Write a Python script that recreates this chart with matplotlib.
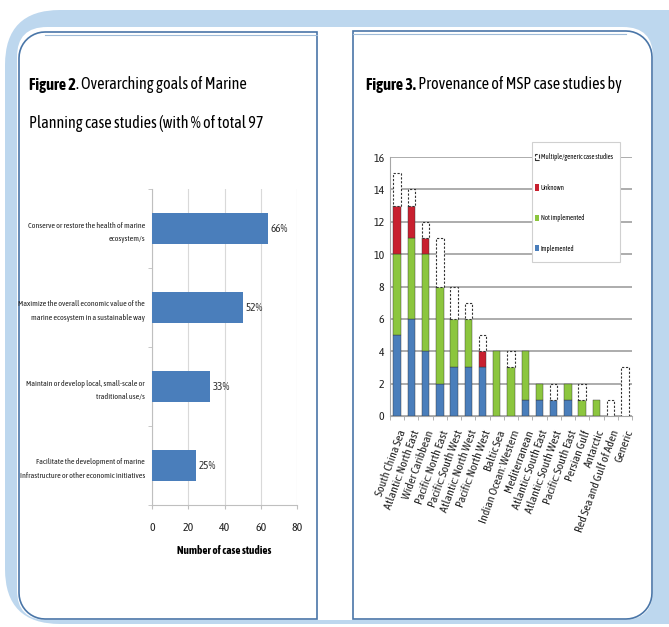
import matplotlib
matplotlib.use("Agg")
import matplotlib.pyplot as plt
from matplotlib.patches import FancyBboxPatch, Patch, Polygon, Rectangle
import numpy as np

W, H = 669, 627

# Figure 2: overarching goals (number of case studies, share of 97)
goals = [
    "Conserve or restore the health of marine\necosystem/s",
    "Maximize the overall economic value of the\nmarine ecosystem in a sustainable way",
    "Maintain or develop local, small-scale or\ntraditional use/s",
    "Facilitate the development of marine\nInfrastructure or other economic initiatives",
]
goal_counts = [64, 50, 32, 24]
goal_pct = ["66%", "52%", "33%", "25%"]

# Figure 3: provenance of MSP case studies by region
regions = [
    "South China Sea", "Atlantic: North East", "Wider Caribbean", "Pacific: North East",
    "Pacific: South West", "Atlantic: North West", "Pacific: North West", "Baltic Sea",
    "Indian Ocean: Western", "Mediterranean", "Atlantic: South East", "Atlantic: South West",
    "Pacific: South East", "Persian Gulf", "Antarctic", "Red Sea and Gulf of Aden", "Generic",
]
implemented     = [5, 6, 4, 2, 3, 3, 3, 0, 0, 1, 1, 1, 1, 0, 0, 0, 0]
not_implemented = [5, 5, 6, 6, 3, 3, 0, 4, 3, 3, 1, 0, 1, 1, 1, 0, 0]
unknown         = [3, 2, 1, 0, 0, 0, 1, 0, 0, 0, 0, 0, 0, 0, 0, 0, 0]
multiple        = [2, 1, 1, 3, 2, 1, 1, 0, 1, 0, 0, 1, 0, 1, 0, 1, 3]

FONT = ["Asap Condensed", "Liberation Sans", "DejaVu Sans"]
plt.rcParams["font.family"] = FONT

FRAME = "#bdd7ee"
EDGE = "#4a76a8"
BLUE = "#4a7ebb"
GREEN = "#8cc63e"
RED = "#c8202f"
GRID = "#a6a6a6"


def outline(x0, y0, x1, y1, r_tl=0, r_tr=0, r_br=0, r_bl=0):
    """Rectangle outline (y pointing down) with its own radius per corner."""
    pts = []
    for cx, cy, r, t0 in [(x0 + r_tl, y0 + r_tl, r_tl, np.pi),
                          (x1 - r_tr, y0 + r_tr, r_tr, 1.5 * np.pi),
                          (x1 - r_br, y1 - r_br, r_br, 0.0),
                          (x0 + r_bl, y1 - r_bl, r_bl, 0.5 * np.pi)]:
        t = np.linspace(t0, t0 + 0.5 * np.pi, 12)
        pts += list(zip(cx + r * np.cos(t), cy + r * np.sin(t)))
    return np.array(pts)


fig = plt.figure(figsize=(W / 100, H / 100), dpi=100)
bg = fig.add_axes([0, 0, 1, 1], zorder=-5)
bg.set_xlim(0, W)
bg.set_ylim(H, 0)
bg.axis("off")

# slide frame
bg.add_patch(FancyBboxPatch((5, 10), 720, 614, boxstyle="round,pad=0,rounding_size=55",
                            fc=FRAME, ec="none"))
bg.add_patch(FancyBboxPatch((17, 27), 636, 593, boxstyle="round,pad=0,rounding_size=30",
                            fc="white", ec="none"))
bg.add_patch(Polygon(outline(19, 32, 317, 619, r_tl=26, r_bl=26), closed=True,
                     fc="none", ec=EDGE, lw=1.2))
bg.add_patch(Polygon(outline(353, 31, 652, 619, r_tr=26, r_br=26), closed=True,
                     fc="none", ec=EDGE, lw=1.2))
bg.plot([45, 317], [35, 35], color="#9fbbd8", lw=0.8)
bg.plot([353, 626], [34, 34], color="#9fbbd8", lw=0.8)

# titles
TS = 11.6


def title(x, y, bold, rest):
    t = bg.text(x, y, bold, fontsize=TS, fontweight="bold", va="bottom", ha="left")
    bg.annotate(rest, xy=(1, 0), xycoords=t, va="bottom", ha="left", fontsize=TS)


title(29, 93, "Figure 2", ". Overarching goals of Marine")
bg.text(29, 132, "Planning case studies (with % of total 97", fontsize=TS, va="bottom", ha="left")
title(366, 93, "Figure 3.", " Provenance of MSP case studies by")

# ---- Figure 2 bars
ax1 = fig.add_axes([152 / W, 1 - 505 / H, 145 / W, 316 / H])
ypos = np.arange(len(goals))
ax1.barh(ypos, goal_counts, height=0.39, color=BLUE, zorder=3)
for y, v, p in zip(ypos, goal_counts, goal_pct):
    ax1.text(v + 1.5, y, p, va="center", ha="left", fontsize=8, color="#333333")
ax1.set_xlim(0, 80)
ax1.set_ylim(len(goals) - 0.5, -0.5)
ax1.set_xticks([0, 20, 40, 60, 80])
ax1.set_yticks(ypos)
ax1.set_yticklabels(goals, fontsize=5.8, linespacing=1.95)
ax1.set_yticks(np.arange(-0.5, len(goals)), minor=True)
ax1.tick_params(axis="y", which="major", length=0, pad=5, colors="#222222")
ax1.tick_params(axis="y", which="minor", length=3, color="#bfbfbf")
ax1.tick_params(axis="x", length=3, color="#bfbfbf", labelsize=8.5,
                labelcolor="#222222", pad=9)
ax1.grid(axis="x", color="#d9d9d9", lw=0.8, zorder=0)
for s in ("top", "right"):
    ax1.spines[s].set_visible(False)
for s in ("left", "bottom"):
    ax1.spines[s].set_color("#bfbfbf")
ax1.set_xlabel("Number of case studies", fontsize=8, fontweight="bold", labelpad=9)

# ---- Figure 3 stacked bars
ax2 = fig.add_axes([390 / W, 1 - 416 / H, 242 / W, 259 / H])
x = np.arange(len(regions))
imp = np.array(implemented)
nim = np.array(not_implemented)
unk = np.array(unknown)
mul = np.array(multiple)
bw = 0.52
series = [(imp, 0, BLUE), (nim, imp, GREEN), (unk, imp + nim, RED)]
for vals, bottom, col in series:
    bottom = np.zeros_like(vals) + bottom
    m = vals > 0
    ax2.bar(x[m], vals[m], bottom=bottom[m], width=bw, color=col,
            edgecolor="#333333", lw=0.3, zorder=3)
base = imp + nim + unk
m = mul > 0
ax2.bar(x[m], mul[m], bottom=base[m], width=bw, facecolor="white",
        edgecolor="#333333", ls=(0, (2, 1.5)), lw=0.8, zorder=3)

ax2.set_xlim(-0.5, len(regions) - 0.5)
ax2.set_ylim(0, 16)
ax2.set_yticks(range(0, 17, 2))
ax2.grid(axis="y", color=GRID, lw=1.3, zorder=0)
ax2.set_xticks(x)
ax2.set_xticklabels(regions, rotation=70, ha="right", rotation_mode="anchor", fontsize=8.6)
ax2.set_xticks(np.arange(-0.5, len(regions)), minor=True)
ax2.tick_params(axis="x", which="major", length=0, pad=9, colors="#222222")
ax2.tick_params(axis="x", which="minor", length=3, color=GRID)
ax2.tick_params(axis="y", length=0, labelsize=8.5, labelcolor="#222222", pad=4)
for s in ("top", "right"):
    ax2.spines[s].set_visible(False)
for s in ("left", "bottom"):
    ax2.spines[s].set_color(GRID)

# legend: own box, tight at the sides and roomy at top and bottom
ax2.add_patch(Rectangle((0.587, 0.595), 0.362, 0.463, transform=ax2.transAxes,
                        fc="white", ec="#d0d0d0", lw=0.8, clip_on=False, zorder=4))
handles = [
    Patch(facecolor="white", edgecolor="#333333", ls="--", lw=0.8,
          label="Multiple/generic case studies"),
    Patch(facecolor=RED, label="Unknown"),
    Patch(facecolor=GREEN, label="Not implemented"),
    Patch(facecolor=BLUE, label="Implemented"),
]
leg = ax2.legend(handles=handles, loc="upper left", bbox_to_anchor=(0.598, 1.014),
                 frameon=False, handlelength=0.6, handleheight=1.0, handletextpad=0.3,
                 labelspacing=3.3, borderpad=0, borderaxespad=0, fontsize=4.9)
leg.set_zorder(5)

fig.savefig("out.png", dpi=100)
